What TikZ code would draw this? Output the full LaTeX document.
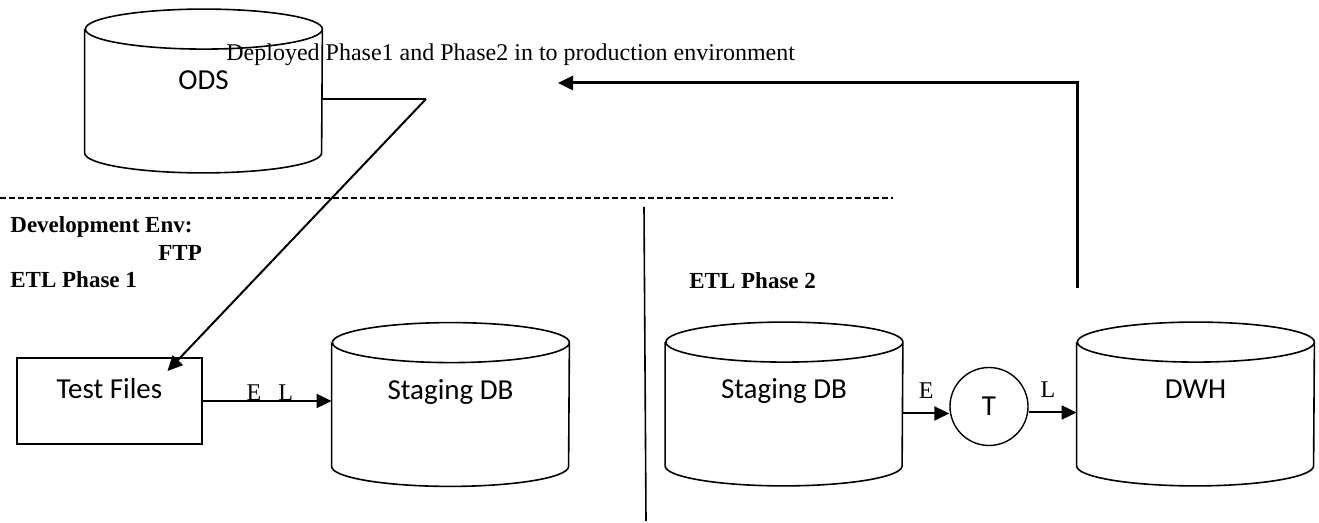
\documentclass[tikz,border=0pt]{standalone}
\usepackage{fontspec}
\setmainfont{Liberation Serif}
\newfontfamily\calibri{Carlito}
\usetikzlibrary{arrows.meta,shapes.geometric,positioning}

\begin{document}
\begin{tikzpicture}[
    x=0.5pt, y=-0.5pt,
    db/.style={minimum width=118.5pt, minimum height=81.5pt, inner sep=0pt, font=\calibri\fontsize{14.5}{17}\selectfont, text height=10pt, text depth=#1},
    db/.default=15.1pt,
    dbline/.style={line width=0.8pt},
    filebox/.style={draw, line width=1pt, minimum width=92.5pt, minimum height=43pt, inner sep=0pt, font=\calibri\fontsize{14.5}{17}\selectfont, text height=10pt, text depth=12.6pt},
    proc/.style={circle, draw, line width=0.7pt, minimum size=39pt, inner sep=0pt, font=\calibri\fontsize{14.5}{17}\selectfont},
    tag/.style={font=\fontsize{12}{14}\selectfont, inner sep=0pt},
    envtag/.style={font=\bfseries\fontsize{11.5}{14}\selectfont, inner sep=0pt, anchor=base west},
    arr/.style={-{Triangle[length=7.5pt,width=7pt]}, line width=1pt}
]
\useasboundingbox (0,0) rectangle (1319,523);

% production side
\node[db=11.6pt] (ods) at (203.5,91) {ODS};
\node[tag, anchor=base west] (deploy) at (226,61) {Deployed Phase1 and Phase2 in to production environment};

% environment split
\draw[line width=0.7pt, dash pattern=on 3pt off 1.5pt] (0,198) -- (893,198);
\draw[line width=0.8pt] (644,207) -- (646,521);
\node[envtag] (dev) at (10,233) {Development Env:};
\node[envtag] (ftp) at (158,261) {FTP};
\node[envtag] (ph1) at (10,288) {ETL Phase 1};
\node[envtag] (ph2) at (689,289) {ETL Phase 2};

% phase 1
\node[filebox] (tf) at (109.5,401) {Test Files};
\node[db] (sdb1) at (450.5,404.5) {Staging DB};

% phase 2
\node[db] (sdb2) at (784,404) {Staging DB};
\node[proc] (t) at (989,406.5) {T};
\node[db] (dwh) at (1195.5,404) {DWH};

% database drums
\foreach \db in {ods,sdb1,sdb2,dwh}
  \draw[dbline] ([yshift=-10pt]\db.north west) -- ([yshift=10pt]\db.south west)
    arc[start angle=180, end angle=360, x radius=59.25pt, y radius=10pt]
    -- ([yshift=-10pt]\db.north east)
    arc[start angle=0, end angle=180, x radius=59.25pt, y radius=10pt]
    arc[start angle=180, end angle=360, x radius=59.25pt, y radius=10pt];

% connectors
\coordinate (bend) at (426,99);
\draw[line width=0.8pt] (ods.east |- bend) -- (bend);
\draw[arr] (bend) -- ([xshift=29pt,yshift=-7pt]tf.north);
\draw[arr] (tf.east) -- node[tag, pos=0.52, anchor=base] {E\hspace{8.5pt}L} (tf.east -| sdb1.west);
\draw[arr] ([yshift=-3.5pt]t.west -| sdb2.east) -- node[tag, anchor=base, yshift=7.5pt] {E} ([yshift=-3.5pt]t.west);
\draw[arr] ([yshift=-3pt]t.east) -- node[tag, pos=0.4, anchor=base, yshift=7.5pt] {L} ([yshift=-3pt]t.east -| dwh.west);

\coordinate (rise) at (1077,288);
\coordinate (goal) at (558,83);
\draw[arr, line width=1.5pt] (rise) |- (goal);
\end{tikzpicture}
\end{document}
